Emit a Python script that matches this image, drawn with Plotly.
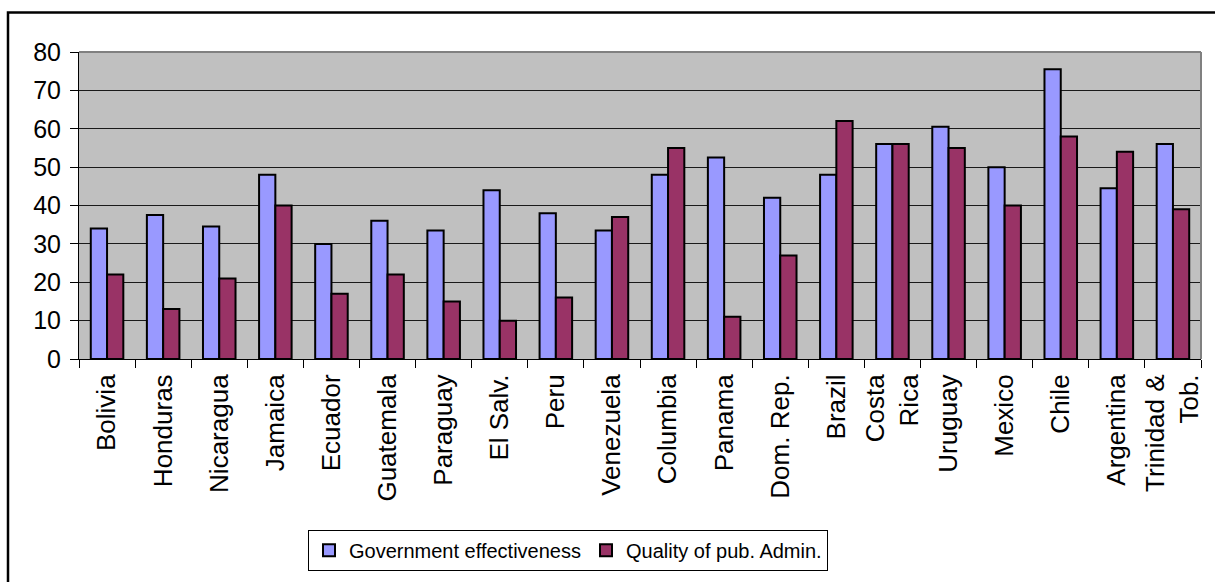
import plotly.graph_objects as go

countries = ["Bolivia", "Honduras", "Nicaragua", "Jamaica", "Ecuador", "Guatemala",
             "Paraguay", "El Salv.", "Peru", "Venezuela", "Columbia", "Panama",
             "Dom. Rep.", "Brazil", "Costa<br>Rica", "Uruguay", "Mexico", "Chile",
             "Argentina", "Trinidad &<br>Tob."]
gov_effectiveness = [34, 37.5, 34.5, 48, 30, 36, 33.5, 44, 38, 33.5,
                     48, 52.5, 42, 48, 56, 60.5, 50, 75.5, 44.5, 56]
quality_pub_admin = [22, 13, 21, 40, 17, 22, 15, 10, 16, 37,
                     55, 11, 27, 62, 56, 55, 40, 58, 54, 39]
y_ticks = [0, 10, 20, 30, 40, 50, 60, 70, 80]

W, H = 1215, 582
L, R, T, B = 79, 14, 52, 219
pw, ph = W - L - R, H - T - B

def px_x(x):
    return (x - L) / pw

def px_y(y):
    return (H - B - y) / ph

font = "Liberation Sans, Arial, sans-serif"

fig = go.Figure()
fig.add_trace(go.Bar(x=countries, y=gov_effectiveness, name="Government effectiveness",
                     marker=dict(color="#9999FF", line=dict(color="black", width=2))))
fig.add_trace(go.Bar(x=countries, y=quality_pub_admin, name="Quality of pub. Admin.",
                     marker=dict(color="#993366", line=dict(color="black", width=2))))

fig.update_layout(
    width=W, height=H,
    margin=dict(l=L, r=R, t=T, b=B, pad=0),
    paper_bgcolor="white",
    plot_bgcolor="#C0C0C0",
    barmode="group",
    bargap=0.42,
    bargroupgap=0,
    font=dict(family=font, size=22, color="black"),
    showlegend=True,
    legend=dict(orientation="h", x=px_x(568), xanchor="center", y=px_y(536), yanchor="top",
                bordercolor="black", borderwidth=1, bgcolor="white",
                font=dict(size=20), itemwidth=30, traceorder="normal"),
    xaxis=dict(type="category", tickson="boundaries", ticks="outside", ticklen=8,
               tickcolor="black", tickwidth=1, showline=True, linecolor="black",
               linewidth=1, tickangle=-90, showgrid=False, ticklabelstandoff=4,
               tickfont=dict(size=26), range=[-0.5, 19.5]),
    yaxis=dict(range=[0, 80], tickvals=y_ticks, ticks="outside", ticklen=8,
               tickcolor="black", showline=True, linecolor="black", linewidth=1,
               showgrid=True, gridcolor="#1a1a1a", gridwidth=1, zeroline=False,
               ticklabelstandoff=4, tickfont=dict(size=25)),
)

# gray frame on top and right of the plotting area
fig.add_shape(type="line", xref="paper", yref="paper", x0=0, x1=1, y0=1, y1=1,
              line=dict(color="#808080", width=2))
fig.add_shape(type="line", xref="paper", yref="paper", x0=1, x1=1, y0=0, y1=1,
              line=dict(color="#808080", width=2))
# outer chart border
fig.add_shape(type="rect", xref="paper", yref="paper",
              x0=px_x(8), x1=px_x(1225), y0=px_y(595), y1=px_y(12),
              line=dict(color="black", width=2.5), layer="below")

fig.write_html("out.html")
